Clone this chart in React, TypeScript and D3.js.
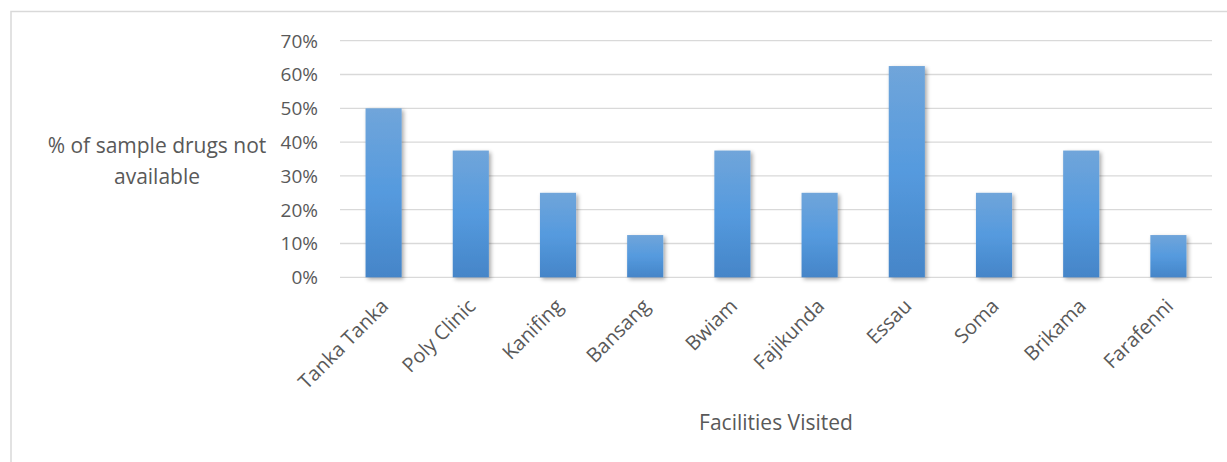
import React from "react";
import * as d3 from "d3";

const facilities = ["Tanka Tanka", "Poly Clinic", "Kanifing", "Bansang", "Bwiam", "Fajikunda", "Essau", "Soma", "Brikama", "Farafenni"];
const notAvailable = [0.5, 0.375, 0.25, 0.125, 0.375, 0.25, 0.625, 0.25, 0.375, 0.125];
const yTicks = [0, 0.1, 0.2, 0.3, 0.4, 0.5, 0.6, 0.7];
const yTitleLines = ["% of sample drugs not", "available"];
const xTitle = "Facilities Visited";

export default function App() {
  const W = 1227, H = 462;
  const left = 340, right = 1212, top = 40.7, bottom = 277.3;
  const x = d3.scaleBand<string>().domain(facilities).range([left, right]).paddingInner(0.586).paddingOuter(0.293);
  const y = d3.scaleLinear().domain([0, 0.7]).range([bottom, top]);
  const font = "'Open Sans', sans-serif";
  const textColor = "#595959";
  return (
    <svg width={W} height={H} style={{ position: "absolute", left: 0, top: 0 }}>
      <defs>
        <linearGradient id="barGrad" x1="0" y1="0" x2="0" y2="1">
          <stop offset="0%" stopColor="#70a5da" />
          <stop offset="50%" stopColor="#559ade" />
          <stop offset="100%" stopColor="#4585c8" />
        </linearGradient>
        <filter id="shadow" x="-20%" y="-10%" width="150%" height="130%">
          <feGaussianBlur in="SourceAlpha" stdDeviation="2" />
          <feOffset dx="1.5" dy="1.5" result="b" />
          <feComponentTransfer><feFuncA type="linear" slope="0.35" /></feComponentTransfer>
          <feMerge><feMergeNode /><feMergeNode in="SourceGraphic" /></feMerge>
        </filter>
      </defs>
      <rect x={0} y={0} width={W} height={H} fill="#fff" />
      <rect x={11} y={11.5} width={W + 10} height={H + 10} fill="#fff" stroke="#d9d9d9" strokeWidth={1.5} />
      {yTicks.map((t) => (
        <g key={t}>
          <line x1={left} x2={right} y1={y(t)} y2={y(t)} stroke="#d9d9d9" strokeWidth={1.3} />
          <text x={318} y={y(t)} dy="0.36em" textAnchor="end" fontFamily={font} fontSize={19} fill={textColor}>
            {d3.format(".0%")(t)}
          </text>
        </g>
      ))}
      {facilities.map((f, i) => (
        <rect key={f} x={x(f)} y={y(notAvailable[i])} width={x.bandwidth()} height={bottom - y(notAvailable[i])}
          fill="url(#barGrad)" filter="url(#shadow)" />
      ))}
      {facilities.map((f) => {
        const cx = (x(f) as number) + x.bandwidth() / 2 + 1;
        const cy = bottom + 25;
        return (
          <text key={f} x={cx} y={cy} transform={`rotate(-45 ${cx} ${cy})`} textAnchor="end" dy="0.36em"
            fontFamily={font} fontSize={20} fill={textColor}>{f}</text>
        );
      })}
      {yTitleLines.map((l, i) => (
        <text key={l} x={157} y={153 + i * 31} textAnchor="middle" fontFamily={font} fontSize={21} fill={textColor}>{l}</text>
      ))}
      <text x={776} y={430} textAnchor="middle" fontFamily={font} fontSize={21} fill={textColor}>{xTitle}</text>
    </svg>
  );
}
